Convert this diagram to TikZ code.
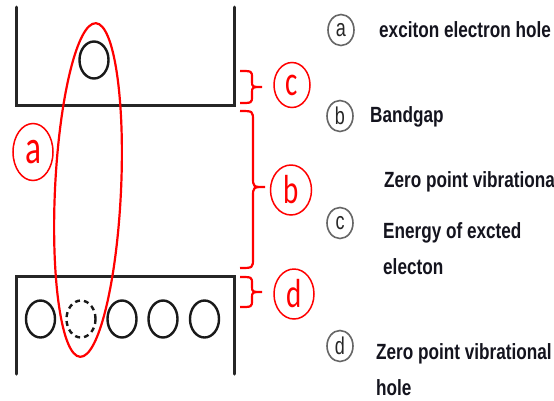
\documentclass[tikz,border=0pt]{standalone}
\usepackage{fontspec}
\usetikzlibrary{shapes.geometric}
\newfontfamily\lblfont[FakeStretch=0.78]{Liberation Sans}
\newfontfamily\redfont{Carlito}
\newfontfamily\grayfont{Liberation Sans}
\definecolor{redc}{RGB}{255,0,0}
\definecolor{txtc}{RGB}{20,20,30}
\tikzset{
  band/.style={line width=3pt, black!85, line cap=round, line join=miter},
  particle/.style={ellipse, draw=black!90, line width=2.4pt, minimum width=29pt, minimum height=37pt, inner sep=0},
  holep/.style={particle, dash pattern=on 5pt off 4pt},
  redline/.style={draw=redc, line width=2.2pt},
  redlbl/.style={ellipse, draw=redc, line width=1.5pt, text=redc, inner sep=0, font=\redfont\fontsize{29}{29}\selectfont},
  graylbl/.style={ellipse, draw=black!60, line width=1.6pt, text=black!85, inner sep=0, minimum width=26pt, minimum height=31pt, font=\grayfont\fontsize{18}{18}\selectfont},
  txt/.style={anchor=base west, inner sep=0, text=txtc, font=\lblfont\bfseries\fontsize{22}{24}\selectfont}
}
\begin{document}
\begin{tikzpicture}[x=1pt,y=-1pt]
\useasboundingbox[fill=white] (0,0) rectangle (554,400);
% bands
\draw[band] (16,7) -- (16,105) -- (234,105) -- (234,7);
\draw[band] (16,374) -- (16,276) -- (234,276) -- (234,374);
% particles
\node[particle] (e1) at (94,60) {};
\node[particle] (h1) at (40.5,319) {};
\node[holep]    (h2) at (81,319) {};
\node[particle] (h3) at (122,319) {};
\node[particle] (h4) at (163,319) {};
\node[particle] (h5) at (204.5,319) {};
% exciton ellipse
\draw[redline, rotate around={-2.7:(88,190)}] (88,190) ellipse [x radius=33, y radius=167];
% braces
\draw[redline] (240,71) .. controls (252,71) .. (252,78) -- (252,81)
  .. controls (252,87) .. (262,87) .. controls (252,87) .. (252,93) -- (252,96)
  .. controls (252,103) .. (240,103);
\draw[redline] (240,111) .. controls (253,111) .. (253,121) -- (253,177)
  .. controls (253,187) .. (265,187) .. controls (253,187) .. (253,197) -- (253,258)
  .. controls (253,268) .. (240,268);
\draw[redline] (240,277) .. controls (252,277) .. (252,284) -- (252,286)
  .. controls (252,292) .. (262,292) .. controls (252,292) .. (252,298) -- (252,300)
  .. controls (252,307) .. (240,307);
% red labels
\node[redlbl, minimum width=40pt, minimum height=57pt] (la) at (33,152) {\scalebox{1.15}[1.65]{a}};
\node[redlbl, minimum width=36pt, minimum height=45pt] (lc) at (292,85) {\scalebox{1}[1.45]{c}};
\node[redlbl, minimum width=41pt, minimum height=50pt] (lb) at (291,190) {\scalebox{1}[1.4]{b}};
\node[redlbl, minimum width=40pt, minimum height=50pt] (ld) at (294,294) {\scalebox{1}[1.4]{d}};
% legend
\node[graylbl] (ga) at (341,30) {\scalebox{1}[1.35]{a}};
\node[graylbl] (gb) at (340,116) {\scalebox{1}[1.35]{b}};
\node[graylbl] (gc) at (340,223) {\scalebox{1}[1.35]{c}};
\node[graylbl] (gd) at (340,346) {\scalebox{1}[1.35]{d}};
\node[txt] (ta) at (379,37) {exciton electron hole};
\node[txt] (tb) at (370,122) {Bandgap};
\node[txt] (tc0) at (384,187) {Zero point vibrationa};
\node[txt] (tc1) at (383,238) {Energy of excted};
\node[txt] (tc2) at (383,274) {electon};
\node[txt] (td1) at (376,359) {Zero point vibrational};
\node[txt] (td2) at (376,395) {hole};
\end{tikzpicture}
\end{document}
